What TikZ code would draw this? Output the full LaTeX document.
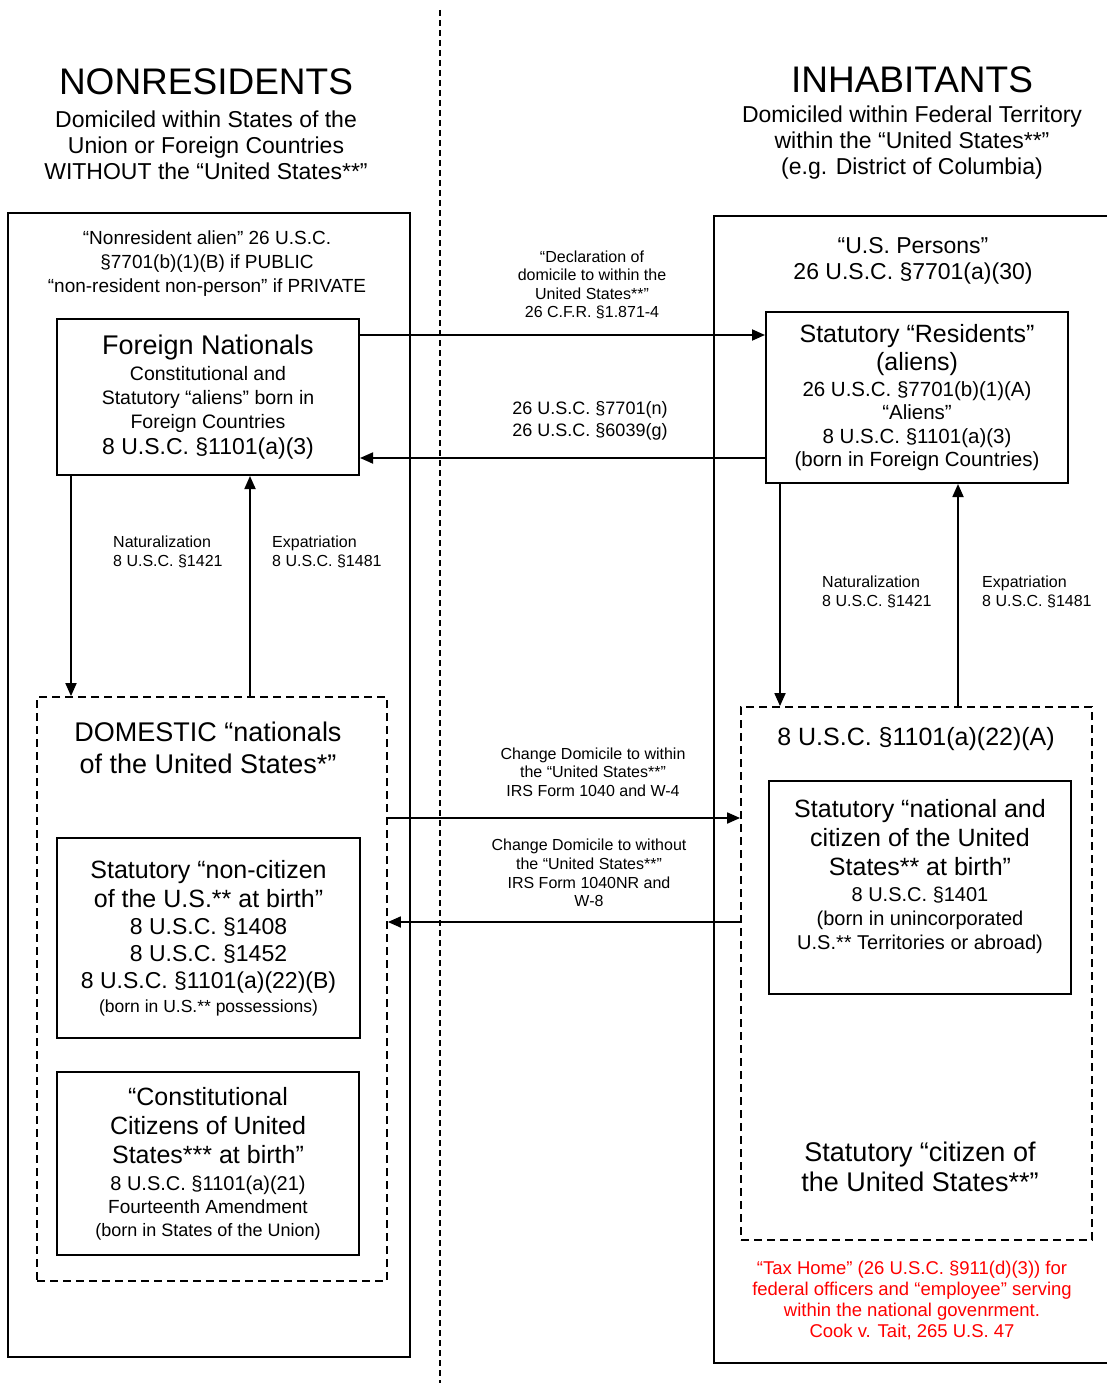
\documentclass[tikz,border=0pt]{standalone}
\usepackage{fontspec}
\setmainfont{Liberation Sans}
\usetikzlibrary{arrows.meta}
\newcommand{\fsz}[2]{\fontsize{#1}{#2}\selectfont}

\begin{document}
\begin{tikzpicture}
        [x=1pt, y=-1pt,
        box/.style={draw, line width=2pt, inner sep=0pt, align=center},
        outer/.style={draw, line width=2pt, inner sep=0pt},
        dbox/.style={draw, line width=1.8pt, dash pattern=on 8pt off 5pt, inner sep=0pt},
        txt/.style={align=center, inner sep=0pt},
        note/.style={align=left, anchor=west, inner sep=0pt, font=\fsz{16}{19}},
        arr/.style={line width=1.8pt, -{Triangle[length=13pt,width=11pt]}}]

        \useasboundingbox (0,0) rectangle (1106,1383);

        % Dividing line between the two domiciles
        \draw[line width=1.6pt, dash pattern=on 6pt off 4pt] (440,10) -- (440,1383);

        % Headings
        \node[txt, font=\fsz{37}{40}] (nrtitle) at (206,82) {NONRESIDENTS};
        \node[txt, font=\fsz{23}{26}] (nrsub) at (206,145) {Domiciled within States of the\\Union or Foreign Countries\\WITHOUT the “United States**”};
        \node[txt, font=\fsz{37}{40}] (intitle) at (912,80) {INHABITANTS};
        \node[txt, font=\fsz{23}{26}] (insub) at (912,143) {Domiciled within Federal Territory\\within the “United States**”\\(e.g. District of Columbia)};

        % Outer frames
        \node[outer, minimum width=402pt, minimum height=1144pt] (nrframe) at (209,785) {};
        \node[outer, minimum width=406pt, minimum height=1147pt] (inframe) at (917,789.5) {};
        \node[txt, font=\fsz{19}{24}] (nrlabel) at (207,264) {“Nonresident alien” 26 U.S.C.\\§7701(b)(1)(B) if PUBLIC\\“non-resident non-person” if PRIVATE};
        \node[txt, font=\fsz{23}{26}] (uslabel) at (913,261) {“U.S. Persons”\\26 U.S.C. §7701(a)(30)};

        % Foreign nationals and statutory residents
        \node[box, minimum width=302pt, minimum height=156pt, font=\fsz{19.5}{24}] (fn) at (208,397)
          {{\fsz{27}{27}Foreign Nationals}\\[2pt]Constitutional and\\Statutory “aliens” born in\\Foreign Countries\\[2pt]{\fsz{23}{23}8 U.S.C. §1101(a)(3)}};
        \node[box, minimum width=302pt, minimum height=171pt, font=\fsz{20.5}{23.5}] (res) at (917,397.5)
          {{\fsz{25}{25}Statutory “Residents”}\\[5pt]{\fsz{25}{25}(aliens)}\\[2pt]26 U.S.C. §7701(b)(1)(A)\\“Aliens”\\8 U.S.C. §1101(a)(3)\\(born in Foreign Countries)};

        % Domestic nationals
        \node[dbox, minimum width=350pt, minimum height=584pt] (ldash) at (212,989) {};
        \node[txt, font=\fsz{27}{32}] (domestic) at (208,748) {DOMESTIC “nationals\\of the United States*”};
        \node[box, minimum width=303pt, minimum height=200pt, font=\fsz{23}{27}] (noncit) at (208.5,938)
          {{\fsz{25}{25}Statutory “non-citizen}\\[2pt]{\fsz{25}{25}of the U.S.** at birth”}\\8 U.S.C. §1408\\8 U.S.C. §1452\\8 U.S.C. §1101(a)(22)(B)\\[-3pt]{\fsz{17.5}{20}(born in U.S.** possessions)}};
        \node[box, minimum width=302pt, minimum height=183pt, font=\fsz{20}{23.5}] (const) at (208,1163.5)
          {{\fsz{25}{25}“Constitutional}\\[5.5pt]{\fsz{25}{25}Citizens of United}\\[5.5pt]{\fsz{25}{25}States*** at birth”}\\[3.5pt]8 U.S.C. §1101(a)(21)\\{\fsz{19}{22}Fourteenth Amendment}\\[-1pt]{\fsz{18}{22}(born in States of the Union)}};

        % Statutory nationals and citizens
        \node[dbox, minimum width=351pt, minimum height=533pt] (rdash) at (916.5,973.5) {};
        \node[txt, font=\fsz{25}{28}] (sec22a) at (916,739) {8 U.S.C. §1101(a)(22)(A)};
        \node[box, minimum width=302pt, minimum height=213pt] (natl) at (920,887.5) {};
        \node[txt, font=\fsz{20}{24}] (natltext) at (920,877)
          {{\fsz{25}{25}Statutory “national and}\\[5pt]{\fsz{25}{25}citizen of the United}\\[5pt]{\fsz{25}{25}States** at birth”}\\[2pt]8 U.S.C. §1401\\(born in unincorporated\\U.S.** Territories or abroad)};
        \node[txt, font=\fsz{27}{30}] (citizen) at (920,1167) {Statutory “citizen of\\the United States**”};
        \node[txt, font=\fsz{18.5}{21}, text=red] (taxhome) at (912,1300)
          {“Tax Home” (26 U.S.C. §911(d)(3)) for\\federal officers and “employee” serving\\within the national govenrment.\\Cook v. Tait, 265 U.S. 47};

        % Changes of domicile
        \draw[arr] (fn.east |- 0,335) -- (res.west |- 0,335);
        \draw[arr] (res.west |- 0,458) -- (fn.east |- 0,458);
        \draw[arr] (ldash.east |- 0,818) -- (rdash.west |- 0,818);
        \draw[arr] (rdash.west |- 0,922) -- (ldash.east |- 0,922);
        \node[txt, font=\fsz{16}{18.5}] (decl) at (592,285) {“Declaration of\\domicile to within the\\United States**”\\26 C.F.R. §1.871-4};
        \node[txt, font=\fsz{18}{22}] (law) at (590,421) {26 U.S.C. §7701(n)\\26 U.S.C. §6039(g)};
        \node[txt, font=\fsz{16}{18.5}] (within) at (593,772) {Change Domicile to within\\the “United States**”\\IRS Form 1040 and W-4};
        \node[txt, font=\fsz{16}{18.7}] (without) at (589,873) {Change Domicile to without\\the “United States**”\\IRS Form 1040NR and\\W-8};

        % Naturalization and expatriation
        \draw[arr] (fn.south -| 71,0) -- (ldash.north -| 71,0);
        \draw[arr] (ldash.north -| 250,0) -- (fn.south -| 250,0);
        \draw[arr] (res.south -| 780,0) -- (rdash.north -| 780,0);
        \draw[arr] (rdash.north -| 958,0) -- (res.south -| 958,0);
        \node[note] (lnat) at (113,552) {Naturalization\\8 U.S.C. §1421};
        \node[note] (lexp) at (272,552) {Expatriation\\8 U.S.C. §1481};
        \node[note] (rnat) at (822,592) {Naturalization\\8 U.S.C. §1421};
        \node[note] (rexp) at (982,592) {Expatriation\\8 U.S.C. §1481};

    \end{tikzpicture}
\end{document}
